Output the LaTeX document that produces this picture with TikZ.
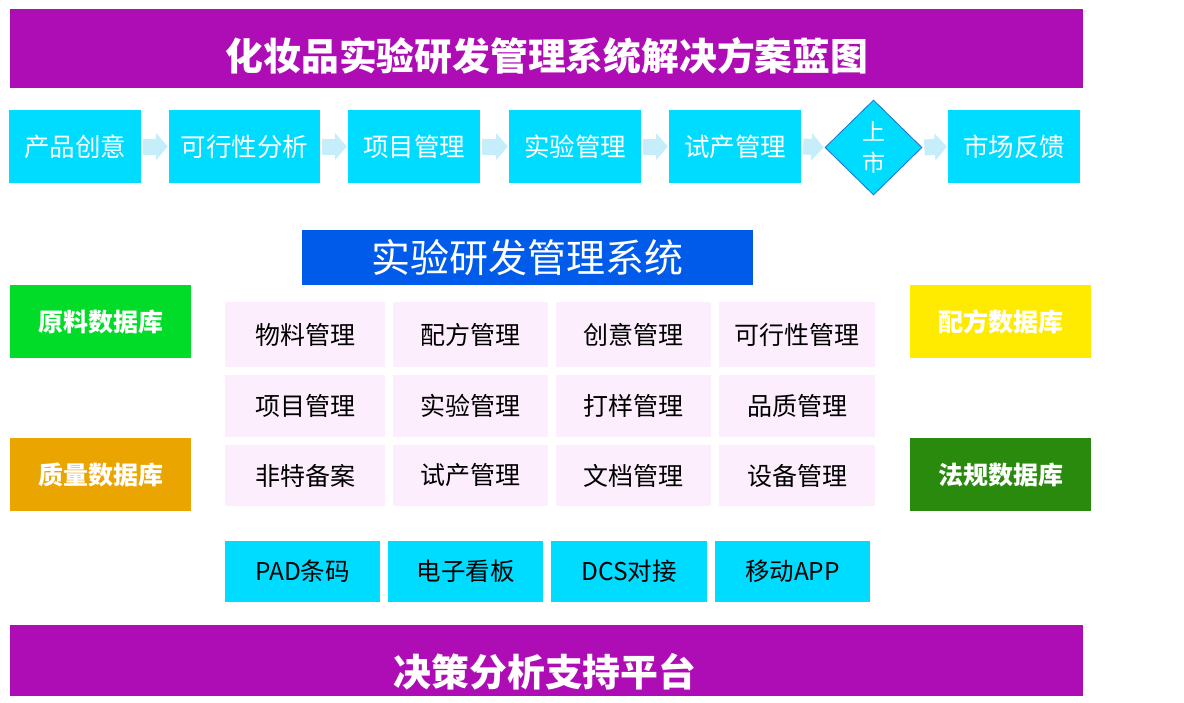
\documentclass[tikz,border=0pt]{standalone}
\usepackage{fontspec}
\setmainfont{Noto Sans CJK SC}
\usetikzlibrary{shapes.geometric,arrows.meta}
\definecolor{barpurple}{HTML}{AE0CB4}
\definecolor{boxcyan}{HTML}{00DCFF}
\definecolor{arrowblue}{HTML}{C5EEFA}
\definecolor{hdrblue}{HTML}{005BEB}
\definecolor{dbgreen}{HTML}{00DC28}
\definecolor{dborange}{HTML}{EBA500}
\definecolor{dbyellow}{HTML}{FFEB00}
\definecolor{dbdark}{HTML}{2A8A0E}
\definecolor{cellpink}{HTML}{FCEEFC}
\definecolor{diaborder}{HTML}{1E6FC8}
\tikzset{
  bar/.style={fill=barpurple, draw=none, inner sep=0pt, minimum width=1073pt, minimum height=79pt},
  bartext/.style={text=white, inner sep=0pt, font=\fontsize{37.8}{38}\selectfont\bfseries},
  proc/.style={fill=boxcyan, draw=none, inner sep=0pt, minimum height=73pt, text=white, font=\fontsize{25.5}{26}\selectfont},
  flowarrow/.style={draw=arrowblue, line width=16pt, -{Triangle[length=12pt,width=27pt]}, shorten <=2pt, shorten >=1pt},
  dbbox/.style={draw=none, inner sep=0pt, minimum width=181pt, minimum height=73pt, text=white, font=\fontsize{25}{25}\selectfont\bfseries},
  cell/.style={fill=cellpink, draw=none, inner sep=0pt, text=black, font=\fontsize{25}{25}\selectfont},
  tool/.style={fill=boxcyan, draw=none, inner sep=0pt, minimum height=61pt, text=black, font=\fontsize{24.5}{25}\selectfont},
}
\begin{document}
\begin{tikzpicture}[x=1pt,y=-1pt]
\useasboundingbox (0,0) rectangle (1184,702);
% title bar
\node[bar] (top) at (546.5,48.5) {};
\node[bartext] (toptext) at (547,56) {化妆品实验研发管理系统解决方案蓝图};
% process row
\node[proc, minimum width=132pt] (p1) at (75,146.5) {产品创意};
\node[proc, minimum width=151pt] (p2) at (244.5,146.5) {可行性分析};
\node[proc, minimum width=132pt] (p3) at (414,146.5) {项目管理};
\node[proc, minimum width=132pt] (p4) at (575,146.5) {实验管理};
\node[proc, minimum width=132pt] (p5) at (735,146.5) {试产管理};
\node[diamond, aspect=1, fill=boxcyan, draw=diaborder, line width=0.8pt, inner sep=0pt,
      minimum width=97pt, minimum height=95pt, text=white, align=center,
      font=\fontsize{23}{31}\selectfont] (d) at (873.5,147.5) {上\\市};
\node[proc, minimum width=132pt] (p7) at (1014,146.5) {市场反馈};
\draw[flowarrow] (p1.east) -- (p2.west);
\draw[flowarrow] (p2.east) -- (p3.west);
\draw[flowarrow] (p3.east) -- (p4.west);
\draw[flowarrow] (p4.east) -- (p5.west);
\draw[flowarrow] (p5.east) -- (d.west);
\draw[flowarrow] (d.east) -- (p7.west);
% system header
\node[fill=hdrblue, draw=none, inner sep=0pt, minimum width=451pt, minimum height=55pt,
      text=white, font=\fontsize{39}{39}\selectfont] (hdr) at (527.5,257.5) {实验研发管理系统};
% databases
\node[dbbox, fill=dbgreen] (db1) at (100.5,321.5) {原料数据库};
\node[dbbox, fill=dborange] (db2) at (100.5,474.5) {质量数据库};
\node[dbbox, fill=dbyellow] (db3) at (1000.5,321.5) {配方数据库};
\node[dbbox, fill=dbdark] (db4) at (1000.5,474.5) {法规数据库};
% grid cells
\node[cell, minimum width=160pt, minimum height=65pt] (c11) at (305,334.5) {物料管理};
\node[cell, minimum width=155pt, minimum height=65pt] (c12) at (470.5,334.5) {配方管理};
\node[cell, minimum width=155pt, minimum height=65pt] (c13) at (633.5,334.5) {创意管理};
\node[cell, minimum width=156pt, minimum height=65pt] (c14) at (797,334.5) {可行性管理};
\node[cell, minimum width=160pt, minimum height=62pt] (c21) at (305,406) {项目管理};
\node[cell, minimum width=155pt, minimum height=62pt] (c22) at (470.5,406) {实验管理};
\node[cell, minimum width=155pt, minimum height=62pt] (c23) at (633.5,406) {打样管理};
\node[cell, minimum width=156pt, minimum height=62pt] (c24) at (797,406) {品质管理};
\node[cell, minimum width=160pt, minimum height=61pt] (c31) at (305,475.5) {非特备案};
\node[cell, minimum width=155pt, minimum height=61pt] (c32) at (470.5,475.5) {试产管理};
\node[cell, minimum width=155pt, minimum height=61pt] (c33) at (633.5,475.5) {文档管理};
\node[cell, minimum width=156pt, minimum height=61pt] (c34) at (797,475.5) {设备管理};
% tools row
\node[tool, minimum width=155pt] (t1) at (302.5,571.5) {PAD条码};
\node[tool, minimum width=155pt] (t2) at (465.5,571.5) {电子看板};
\node[tool, minimum width=156pt] (t3) at (629,571.5) {DCS对接};
\node[tool, minimum width=155pt] (t4) at (792.5,571.5) {移动APP};
% bottom bar
\node[bar, minimum height=71pt] (bot) at (546.5,660.5) {};
\node[bartext] (bottext) at (545,672) {决策分析支持平台};
\end{tikzpicture}
\end{document}
